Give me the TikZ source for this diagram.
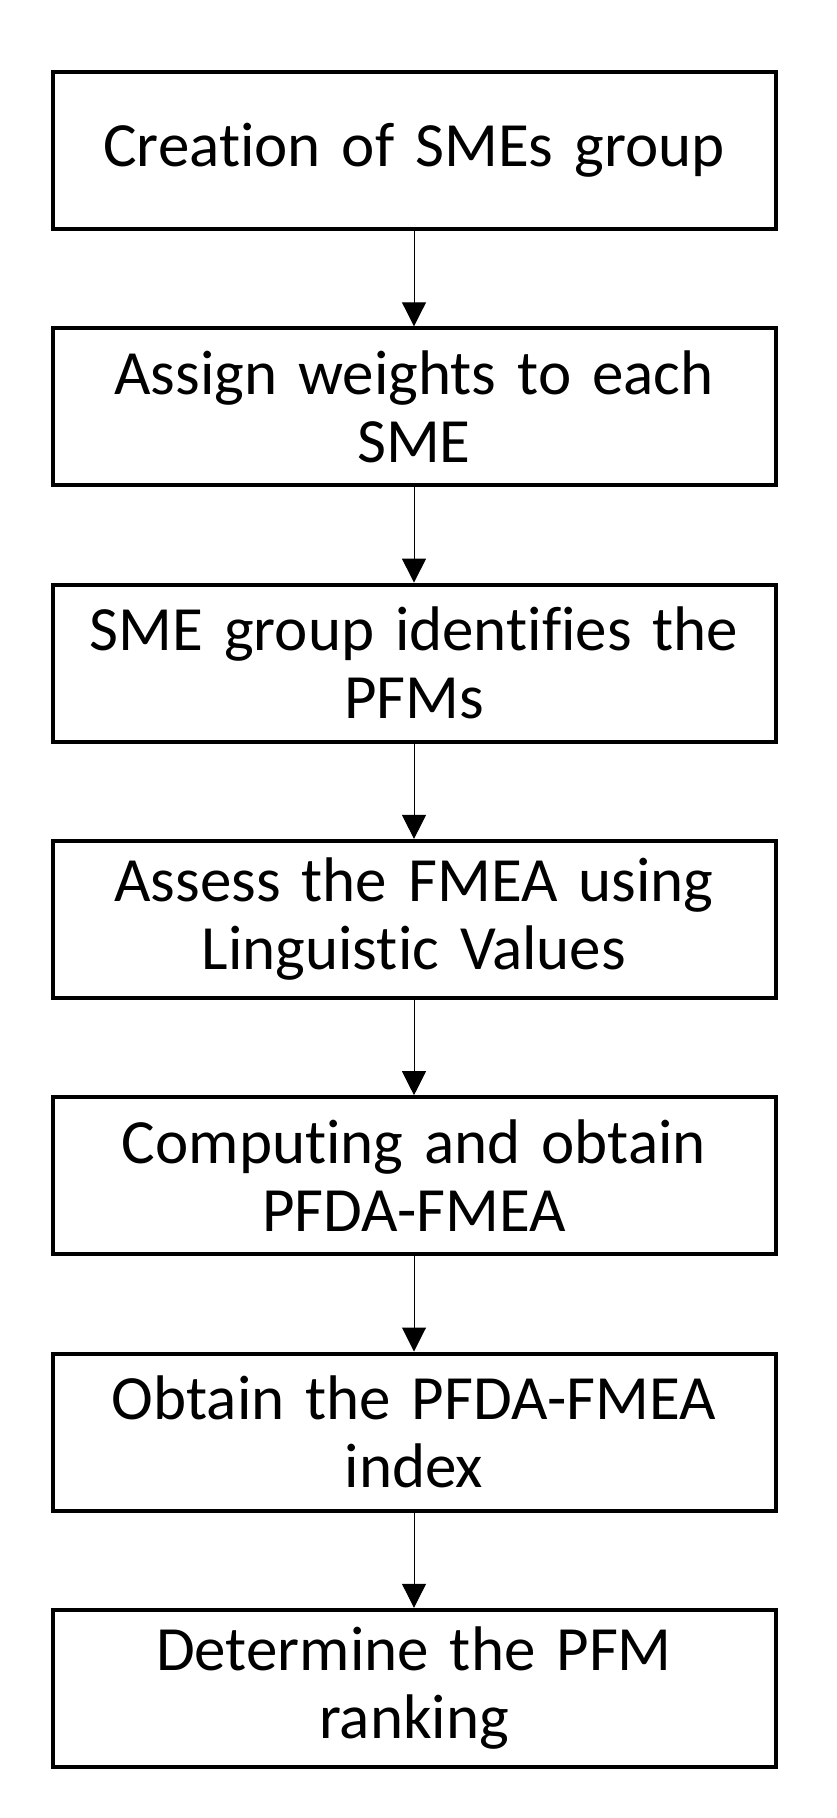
\documentclass[tikz,border=0pt]{standalone}
\usepackage{fontspec}
\setmainfont{Carlito}[Ligatures=NoCommon]
\usetikzlibrary{positioning, arrows.meta}

\begin{document}
\begin{tikzpicture}[
            x=1pt, y=1pt,
            block/.style={rectangle, draw, line width=4pt, minimum height=157pt, text width=700pt, inner xsep=11.5pt, inner ysep=0pt, align=center, font=\fontsize{63}{68}\selectfont},
            flow/.style={-{Triangle[length=24pt, width=24pt]}, line width=1pt},
            node distance=95.3pt
        ]

        \useasboundingbox (0,0) rectangle (837,-1818);

        \node[block] (create) at (414,-150.5) {Creation of SMEs group};
        \node[block, below=of create] (weights) {Assign weights to each\\SME};
        \node[block, below=of weights] (identify) {SME group identifies the\\PFMs};
        \node[block, below=of identify] (assess) {Assess the FMEA using\\Linguistic Values};
        \node[block, below=of assess] (compute) {Computing and obtain\\PFDA-FMEA};
        \node[block, below=of compute] (index) {Obtain the PFDA-FMEA\\index};
        \node[block, below=of index] (rank) {Determine the PFM\\ranking};

        \draw[flow] (create) -- (weights);
        \draw[flow] (weights) -- (identify);
        \draw[flow] (identify) -- (assess);
        \draw[flow] (assess) -- (compute);
        \draw[flow] (compute) -- (index);
        \draw[flow] (index) -- (rank);

    \end{tikzpicture}
\end{document}
